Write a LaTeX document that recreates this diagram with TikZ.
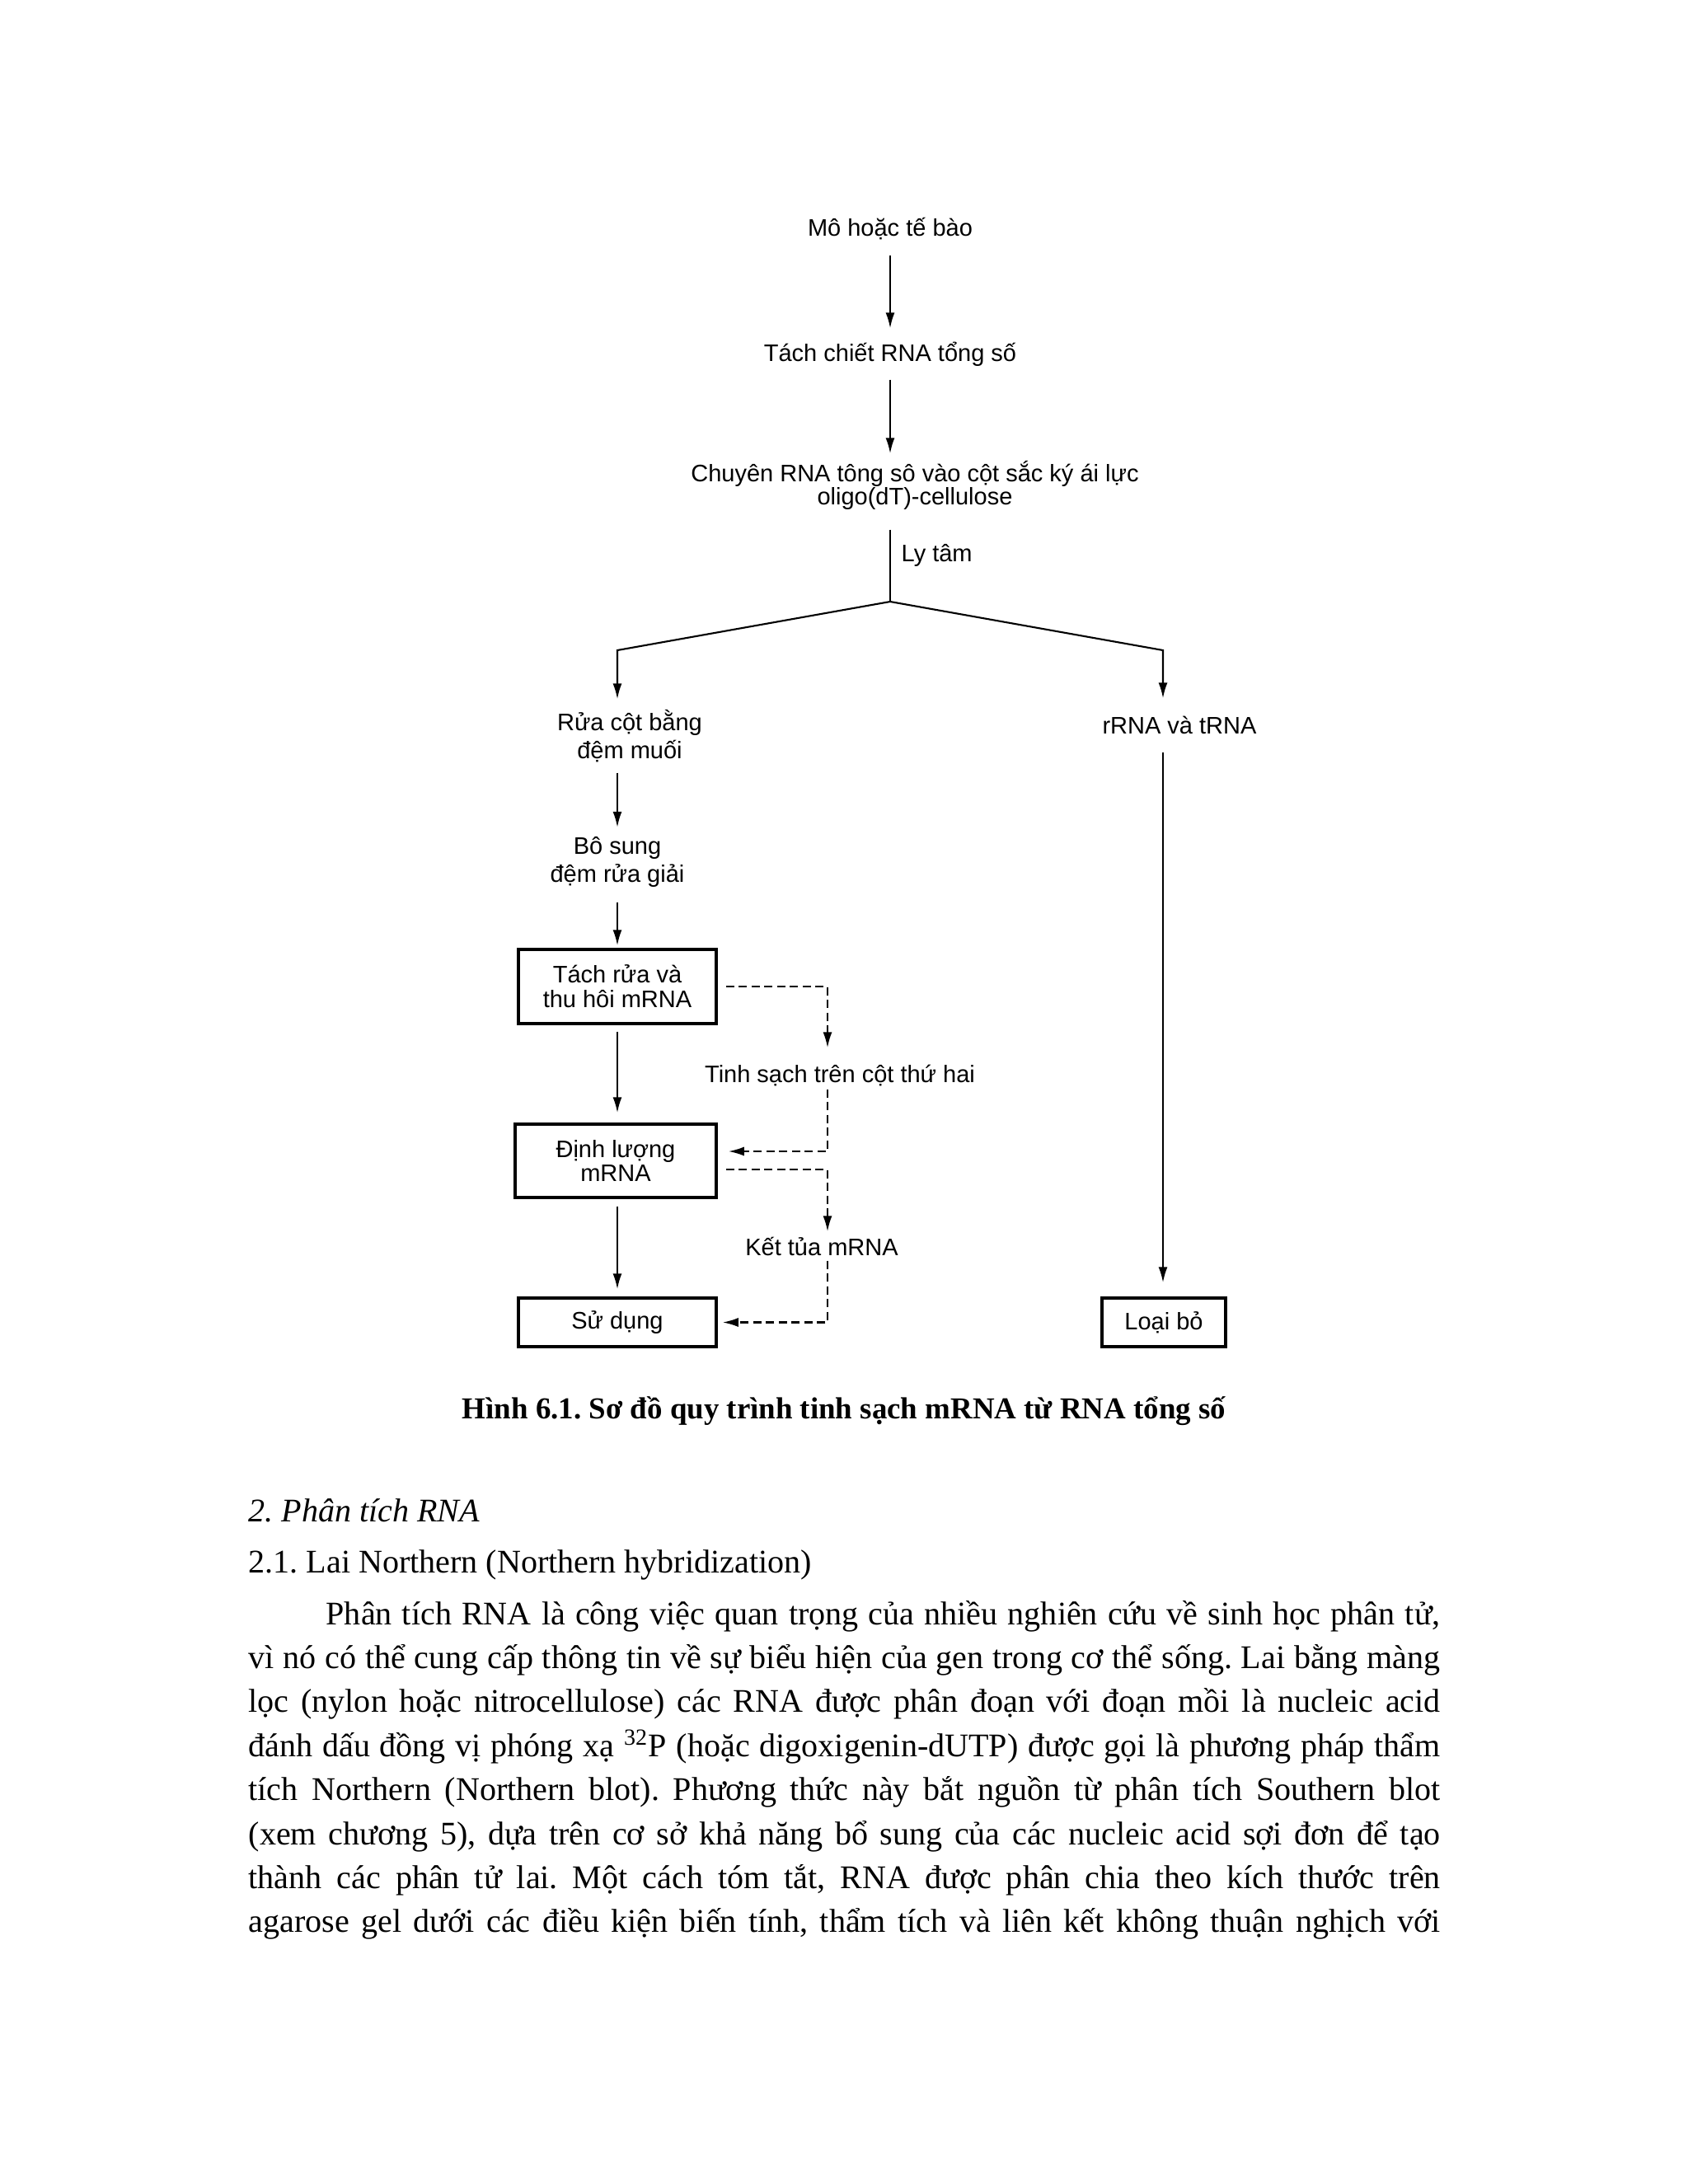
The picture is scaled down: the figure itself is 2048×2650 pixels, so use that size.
\documentclass[tikz,border=0pt]{standalone}
\usepackage{fontspec}
\setmainfont{Liberation Serif}
\newfontfamily\diagfam{Liberation Sans}
\usetikzlibrary{arrows.meta,calc}
\frenchspacing
\newcommand\dfont{\diagfam\fontsize{8.25pt}{8.2pt}\selectfont}
\newcommand\bodyf{\fontsize{11.4pt}{14pt}\selectfont}
\newcommand\capf{\bfseries\fontsize{10.5pt}{13pt}\selectfont}
\tikzset{
  lbl/.style={font=\dfont, inner sep=0pt},
  boxn/.style={draw, line width=1pt, font=\dfont, align=center, inner sep=0pt},
  ln/.style={line width=0.6pt},
  arr/.style={line width=0.6pt, -{Latex[length=1.9mm,width=1.1mm]}},
  dsh/.style={line width=0.6pt, dash pattern=on 1mm off 0.55mm, -{Latex[length=1.9mm,width=1.1mm]}},
  bline/.style={anchor=base west, inner sep=0pt, font=\bodyf},
}
\begin{document}
\begin{tikzpicture}[x=0.1mm,y=-0.1mm]
\path[use as bounding box, fill=white] (0,0) rectangle (2048,2650);

% ---------- diagram nodes ----------
\node[lbl, minimum height=6.2mm] (mo) at (1080,278) {Mô hoặc tế bào};
\node[lbl, minimum height=6.1mm] (tach) at (1080,429.5) {Tách chiết RNA tổng số};
\node[lbl, align=center, minimum height=7.6mm] (chuyen) at (1110,589) {Chuyên RNA tông sô vào cột sắc ký ái lực\\oligo(dT)-cellulose};
\node[lbl, anchor=west] (ly) at (1093,674) {Ly tâm};
\coordinate (apex) at (1080,730);
\coordinate (cl) at (749,789);
\coordinate (cr) at (1411,789);
\node[lbl, align=center, minimum height=8.8mm] (rua) at (764,893) {Rửa cột bằng\\[1.4pt]đệm muối};
\node[lbl, minimum height=6.4mm] (rrna) at (1431,880) {rRNA và tRNA};
\node[lbl, align=center, minimum height=8.3mm] (bo) at (749,1046) {Bô sung\\[1.7pt]đệm rửa giải};
\node[boxn, minimum width=24mm, minimum height=9mm] (b1) at (749,1197) {Tách rửa và\\[0.3pt]thu hôi mRNA};
\node[boxn, minimum width=24.4mm, minimum height=8.9mm] (b2) at (747,1408.5) {Định lượng\\mRNA};
\node[boxn, minimum width=24mm, minimum height=5.9mm] (b3) at (749,1604.5) {Sử dụng};
\node[boxn, minimum width=15mm, minimum height=5.9mm] (b4) at (1412,1604.5) {Loại bỏ};
\node[lbl, minimum height=3.2mm] (tinh) at (1019,1305) {Tinh sạch trên cột thứ hai};
\node[lbl, minimum height=3.4mm] (ket) at (997,1512) {Kết tủa mRNA};
\coordinate (c1) at (1004,1197);
\coordinate (c2) at (1004,1397);
\coordinate (c3) at (1004,1419);
\coordinate (c4) at (1004,1604.5);

% ---------- connectors ----------
\draw[arr] (mo) -- (tach);
\draw[arr] (tach.south) -- (tach.south |- chuyen.north);
\draw[ln, shorten <=1.5mm] (apex |- chuyen.south) -- (apex);
\draw[arr] (apex) -- (cl) -- (cl |- rua.north);
\draw[arr] (apex) -- (cr) -- (cr |- rrna.north);
\draw[arr] (cl |- rua.south) -- (bo.north);
\draw[arr, shorten <=0.7mm, shorten >=0.3mm] (bo) -- (b1);
\draw[arr, shorten <=0.8mm, shorten >=1.2mm] (b1.south) -- (b1.south |- b2.north);
\draw[arr, shorten <=0.9mm, shorten >=0.9mm] (b3.north |- b2.south) -- (b3.north);
\draw[arr, shorten >=1.7mm] (cr |- rrna.south) -- (cr |- b4.north);
\draw[dsh, shorten <=1mm, shorten >=1.7mm] (b1.east |- c1) -- (c1) -- (c1 |- tinh.north);
\draw[dsh, shorten >=1.3mm] (c1 |- tinh.south) -- (c2) -- (b2.east |- c2);
\draw[dsh, shorten <=1mm] (b2.east |- c3) -- (c3) -- (c3 |- ket.north);
\draw[dsh, shorten >=0.6mm] (c4 |- ket.south) -- (c4) -- (b3.east |- c4);

% ---------- caption and text ----------
\node[anchor=base, inner sep=0pt, font=\capf] (cap) at (1024,1721) {Hình 6.1. Sơ đồ quy trình tinh sạch mRNA từ RNA tổng số};
\node[bline, font=\bodyf\itshape] (h1) at (301,1846) {2. Phân tích RNA};
\node[bline] (h2) at (301,1908) {2.1. Lai Northern (Northern hybridization)};
\node[bline] (p1) at (395,1971) {\makebox[135.2mm][s]{Phân tích RNA là công việc quan trọng của nhiều nghiên cứu về sinh học phân tử,}};
\node[bline] (p2) at (301,2024.4) {\makebox[144.6mm][s]{vì nó có thể cung cấp thông tin về sự biểu hiện của gen trong cơ thể sống. Lai bằng màng}};
\node[bline] (p3) at (301,2077.8) {\makebox[144.6mm][s]{lọc (nylon hoặc nitrocellulose) các RNA được phân đoạn với đoạn mồi là nucleic acid}};
\node[bline] (p4) at (301,2131.2) {\makebox[144.6mm][s]{đánh dấu đồng vị phóng xạ \textsuperscript{32}P (hoặc digoxigenin-dUTP) được gọi là phương pháp thẩm}};
\node[bline] (p5) at (301,2184.6) {\makebox[144.6mm][s]{tích Northern (Northern blot). Phương thức này bắt nguồn từ phân tích Southern blot}};
\node[bline] (p6) at (301,2238) {\makebox[144.6mm][s]{(xem chương 5), dựa trên cơ sở khả năng bổ sung của các nucleic acid sợi đơn để tạo}};
\node[bline] (p7) at (301,2291.4) {\makebox[144.6mm][s]{thành các phân tử lai. Một cách tóm tắt, RNA được phân chia theo kích thước trên}};
\node[bline] (p8) at (301,2344.8) {\makebox[144.6mm][s]{agarose gel dưới các điều kiện biến tính, thẩm tích và liên kết không thuận nghịch với}};
\end{tikzpicture}
\end{document}
